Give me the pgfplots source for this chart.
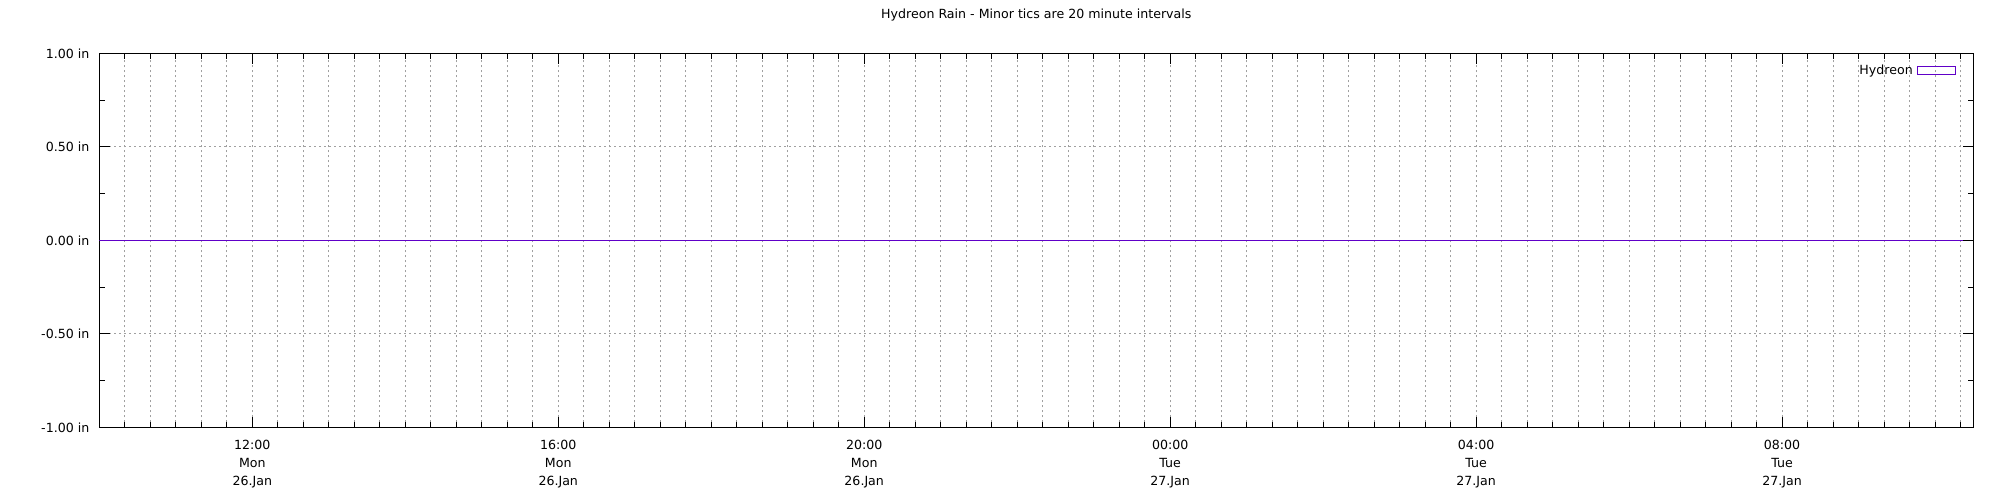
\documentclass[border=0pt]{standalone}
\usepackage{pgfplots}
\pgfplotsset{compat=1.18}
\usepackage{fontspec}
\setmainfont{DejaVu Sans}
\definecolor{hyd}{HTML}{6000C8}
\definecolor{gridgray}{HTML}{A0A0A0}
\begin{document}
\begin{tikzpicture}
\begin{axis}[
  scale only axis,
  width=937pt, height=187pt,
  at={(49.65pt,36.35pt)}, anchor=south west,
  xmin=10, xmax=34.5, ymin=-1, ymax=1,
  xtick={12,16,20,24,28,32},
  xticklabels={{12:00\\Mon\\26.Jan},{16:00\\Mon\\26.Jan},{20:00\\Mon\\26.Jan},{00:00\\Tue\\27.Jan},{04:00\\Tue\\27.Jan},{08:00\\Tue\\27.Jan}},
  minor xtick={10.3333,10.6667,11,11.3333,11.6667,12.3333,12.6667,13,13.3333,13.6667,14,14.3333,14.6667,15,15.3333,15.6667,16.3333,16.6667,17,17.3333,17.6667,18,18.3333,18.6667,19,19.3333,19.6667,20.3333,20.6667,21,21.3333,21.6667,22,22.3333,22.6667,23,23.3333,23.6667,24.3333,24.6667,25,25.3333,25.6667,26,26.3333,26.6667,27,27.3333,27.6667,28.3333,28.6667,29,29.3333,29.6667,30,30.3333,30.6667,31,31.3333,31.6667,32.3333,32.6667,33,33.3333,33.6667,34,34.3333},
  ytick={-1,-0.5,0,0.5,1},
  yticklabels={-1.00 in,-0.50 in,0.00 in,0.50 in,1.00 in},
  minor ytick={-0.75,-0.25,0.25,0.75},
  tick align=inside,
  major tick length=5.3pt,
  minor tick length=2.8pt,
  every tick/.style={black, line width=0.5pt},
  axis line style={black, line width=0.5pt},
  xmajorgrids, xminorgrids, ymajorgrids,
  major grid style={gridgray, line width=0.4pt, dash pattern=on 1pt off 1.5pt},
  minor grid style={gridgray, line width=0.4pt, dash pattern=on 1pt off 1.5pt},
  xticklabel style={font=\fontsize{6.3}{9}\selectfont, align=center, anchor=north, inner sep=0pt, yshift=-6.4pt},
  yticklabel style={font=\fontsize{6.3}{7}\selectfont, anchor=east, inner sep=0pt, xshift=-4.8pt},
  title={Hydreon Rain - Minor tics are 20 minute intervals},
  title style={font=\fontsize{6.3}{7}\selectfont, at={(0.5,1)}, anchor=base, yshift=11.3pt, inner sep=0pt},
  legend style={at={(1,1)}, anchor=north east, xshift=-8.6pt, yshift=-3.4pt, draw=none, fill=none, inner sep=0pt, font=\fontsize{6.3}{7}\selectfont, legend cell align=right},
  legend plot pos=right,
  legend image code/.code={\draw[#1, line width=0.5pt] (3pt,-2pt) rectangle (22pt,2pt);},
]
\addplot[hyd, line width=0.5pt, mark=none] coordinates {
(10,0) (11,0) (12,0) (13,0) (14,0) (15,0) (16,0) (17,0) (18,0) (19,0) (20,0) (21,0) (22,0) (23,0) (24,0) (25,0) (26,0) (27,0) (28,0) (29,0) (30,0) (31,0) (32,0) (33,0) (34,0) (34.37,0)
};
\addlegendentry{Hydreon}
\end{axis}
\pgfresetboundingbox
\path (0,0) rectangle (1000pt,250pt);
\end{tikzpicture}
\end{document}
